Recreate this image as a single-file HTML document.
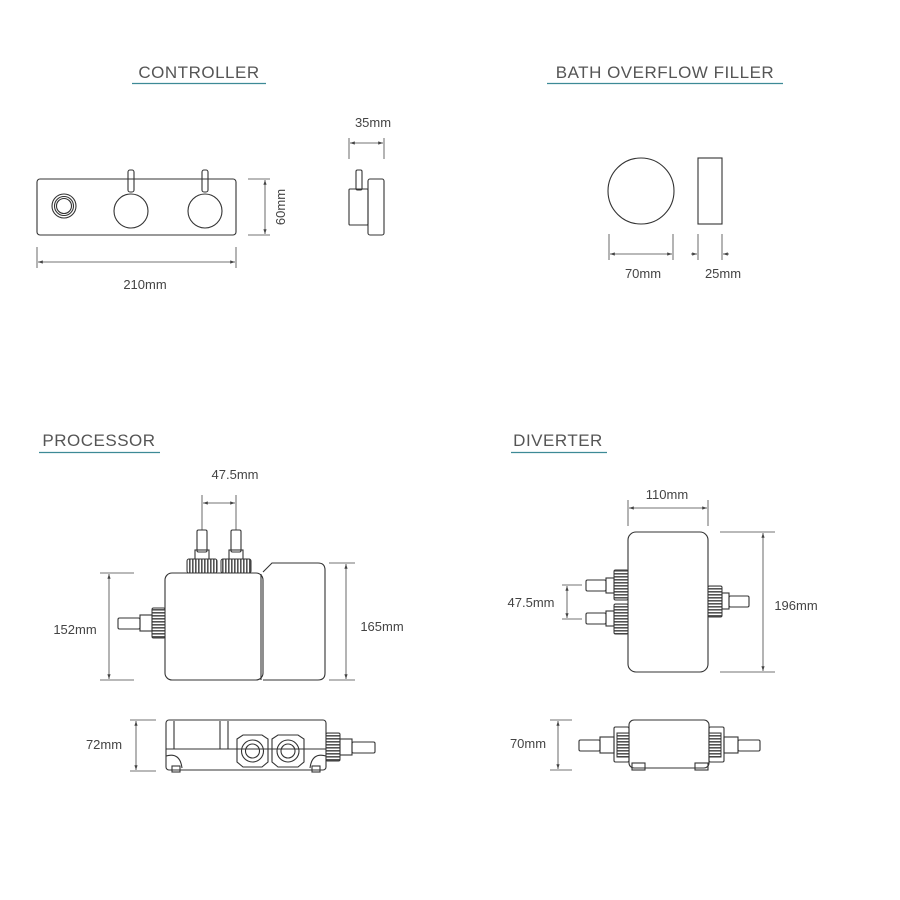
<!DOCTYPE html>
<html><head><meta charset="utf-8"><style>
html,body{margin:0;padding:0;background:#fff;}
svg{display:block;font-family:"Liberation Sans",sans-serif;}
.l{fill:none;stroke:#333;stroke-width:1.1}
.d{fill:none;stroke:#444;stroke-width:0.8}
.t{fill:#444;font-size:13px}
.h{fill:#555;font-size:17px;letter-spacing:0.5px}
.u{stroke:#3d8a96;stroke-width:1.3}
.nv{fill:url(#vs);stroke:#333;stroke-width:1}
.nh{fill:url(#hs);stroke:#333;stroke-width:1}
</style></head><body>
<svg width="900" height="900" viewBox="0 0 900 900" xmlns="http://www.w3.org/2000/svg">
<defs>
<marker id="a" viewBox="0 0 6 6" refX="6" refY="3" markerWidth="6" markerHeight="6" orient="auto-start-reverse"><path d="M0,1 L6,3 L0,5z" fill="#444"/></marker>
<pattern id="vs" width="3" height="3" patternUnits="userSpaceOnUse"><rect width="3" height="3" fill="#fff"/><rect width="1.6" height="3" fill="#555"/></pattern>
<pattern id="hs" width="3" height="3" patternUnits="userSpaceOnUse"><rect width="3" height="3" fill="#fff"/><rect width="3" height="1.6" fill="#555"/></pattern>
</defs>

<!-- Titles -->
<text class="h" x="199" y="78" text-anchor="middle">CONTROLLER</text>
<line class="u" x1="132" y1="83.5" x2="266" y2="83.5"/>
<text class="h" x="665" y="78" text-anchor="middle">BATH OVERFLOW FILLER</text>
<line class="u" x1="547" y1="83.5" x2="783" y2="83.5"/>
<text class="h" x="99" y="446" text-anchor="middle">PROCESSOR</text>
<line class="u" x1="39" y1="452.5" x2="160" y2="452.5"/>
<text class="h" x="558" y="446" text-anchor="middle">DIVERTER</text>
<line class="u" x1="511" y1="452.5" x2="607" y2="452.5"/>

<!-- Controller front -->
<rect class="l" x="37" y="179" width="199" height="56" rx="3"/>
<rect class="l" x="128" y="170" width="6" height="22" rx="2"/>
<rect class="l" x="202" y="170" width="6" height="22" rx="2"/>
<circle class="l" cx="131" cy="211" r="17" fill="#fff"/>
<circle class="l" cx="205" cy="211" r="17" fill="#fff"/>
<circle class="l" cx="64" cy="206" r="12"/>
<circle class="l" cx="64" cy="206" r="9.5"/>
<circle class="l" cx="64" cy="206" r="7.5"/>
<line class="d" x1="248" y1="179" x2="270" y2="179"/>
<line class="d" x1="248" y1="235" x2="270" y2="235"/>
<line class="d" x1="265" y1="180" x2="265" y2="234" marker-start="url(#a)" marker-end="url(#a)"/>
<text class="t" x="0" y="0" text-anchor="middle" transform="translate(285,207) rotate(-90)">60mm</text>
<line class="d" x1="37" y1="247" x2="37" y2="268"/>
<line class="d" x1="236" y1="247" x2="236" y2="268"/>
<line class="d" x1="38" y1="262" x2="235" y2="262" marker-start="url(#a)" marker-end="url(#a)"/>
<text class="t" x="145" y="289" text-anchor="middle">210mm</text>

<!-- Controller side -->
<text class="t" x="373" y="127" text-anchor="middle">35mm</text>
<line class="d" x1="349" y1="138" x2="349" y2="159"/>
<line class="d" x1="384" y1="138" x2="384" y2="159"/>
<line class="d" x1="350" y1="143" x2="383" y2="143" marker-start="url(#a)" marker-end="url(#a)"/>
<rect class="l" x="356" y="170" width="6" height="20" rx="1.5"/>
<rect class="l" x="349" y="189" width="19" height="36" rx="1"/>
<rect class="l" x="368" y="179" width="16" height="56" rx="2"/>

<!-- Bath overflow -->
<circle class="l" cx="641" cy="191" r="33"/>
<rect class="l" x="698" y="158" width="24" height="66"/>
<line class="d" x1="609" y1="234" x2="609" y2="260"/>
<line class="d" x1="673" y1="234" x2="673" y2="260"/>
<line class="d" x1="610" y1="254" x2="672" y2="254" marker-start="url(#a)" marker-end="url(#a)"/>
<text class="t" x="643" y="278" text-anchor="middle">70mm</text>
<line class="d" x1="698" y1="234" x2="698" y2="260"/>
<line class="d" x1="722" y1="234" x2="722" y2="260"/>
<line class="d" x1="691" y1="254" x2="697" y2="254" marker-end="url(#a)"/>
<line class="d" x1="729" y1="254" x2="723" y2="254" marker-end="url(#a)"/>
<text class="t" x="723" y="278" text-anchor="middle">25mm</text>

<!-- Processor top -->
<text class="t" x="235" y="479" text-anchor="middle">47.5mm</text>
<line class="d" x1="202" y1="495" x2="202" y2="530"/>
<line class="d" x1="236" y1="495" x2="236" y2="530"/>
<line class="d" x1="203" y1="503" x2="235" y2="503" marker-start="url(#a)" marker-end="url(#a)"/>
<rect class="l" x="197" y="530" width="10" height="22" rx="1.5"/>
<rect class="l" x="195" y="550" width="14" height="10"/>
<rect class="l" x="231" y="530" width="10" height="22" rx="1.5"/>
<rect class="l" x="229" y="550" width="14" height="10"/>
<rect class="nv" x="187" y="559" width="30" height="14" rx="2"/>
<rect class="nv" x="221" y="559" width="30" height="14" rx="2"/>
<rect class="l" x="165" y="573" width="98" height="107" rx="7"/>
<path class="l" d="M263,680 L318,680 Q325,680 325,673 L325,570 Q325,563 318,563 L272,563 L263,572"/>
<line class="l" x1="261" y1="574" x2="261" y2="680"/>
<rect class="nh" x="152" y="608" width="13" height="30" rx="1.5"/>
<rect class="l" x="140" y="615" width="12" height="16"/>
<rect class="l" x="118" y="618" width="22" height="11" rx="1.5"/>
<line class="d" x1="100" y1="573" x2="134" y2="573"/>
<line class="d" x1="100" y1="680" x2="134" y2="680"/>
<line class="d" x1="109" y1="574" x2="109" y2="679" marker-start="url(#a)" marker-end="url(#a)"/>
<text class="t" x="75" y="634" text-anchor="middle">152mm</text>
<line class="d" x1="329" y1="563" x2="355" y2="563"/>
<line class="d" x1="329" y1="680" x2="355" y2="680"/>
<line class="d" x1="346" y1="564" x2="346" y2="679" marker-start="url(#a)" marker-end="url(#a)"/>
<text class="t" x="382" y="631" text-anchor="middle">165mm</text>

<!-- Processor side -->
<rect class="l" x="166" y="720" width="160" height="50" rx="3"/>
<line class="l" x1="166" y1="749" x2="326" y2="749"/>
<line class="l" x1="174" y1="721" x2="174" y2="749"/>
<line class="l" x1="220" y1="721" x2="220" y2="749"/>
<line class="l" x1="228" y1="721" x2="228" y2="749"/>
<path class="l" d="M166,756 Q180,752 182,768"/>
<path class="l" d="M326,756 Q312,752 310,768"/>
<rect class="l" x="172" y="766" width="8" height="6"/>
<rect class="l" x="312" y="766" width="8" height="6"/>
<path class="l" d="M237,739 L243,735 L262,735 L268,739 L268,762 L262,767 L243,767 L237,762z" fill="#fff"/>
<path class="l" d="M272,739 L278,735 L298,735 L304,739 L304,762 L298,767 L278,767 L272,762z" fill="#fff"/>
<circle class="l" cx="252.5" cy="751" r="11"/><circle class="l" cx="252.5" cy="751" r="7"/>
<circle class="l" cx="288" cy="751" r="11"/><circle class="l" cx="288" cy="751" r="7"/>
<rect class="nh" x="326" y="733" width="14" height="28" rx="1.5"/>
<rect class="l" x="340" y="739" width="12" height="16"/>
<rect class="l" x="352" y="742" width="23" height="11" rx="1.5"/>
<line class="d" x1="130" y1="720" x2="156" y2="720"/>
<line class="d" x1="130" y1="771" x2="156" y2="771"/>
<line class="d" x1="136" y1="721" x2="136" y2="770" marker-start="url(#a)" marker-end="url(#a)"/>
<text class="t" x="104" y="749" text-anchor="middle">72mm</text>

<!-- Diverter top -->
<text class="t" x="667" y="499" text-anchor="middle">110mm</text>
<line class="d" x1="628" y1="500" x2="628" y2="526"/>
<line class="d" x1="708" y1="500" x2="708" y2="526"/>
<line class="d" x1="629" y1="508" x2="707" y2="508" marker-start="url(#a)" marker-end="url(#a)"/>
<rect class="l" x="628" y="532" width="80" height="140" rx="8"/>
<rect class="nh" x="614" y="570" width="14" height="30" rx="1.5"/>
<rect class="nh" x="614" y="604" width="14" height="30" rx="1.5"/>
<rect class="l" x="606" y="578" width="8" height="15"/>
<rect class="l" x="586" y="580" width="20" height="11" rx="1.5"/>
<rect class="l" x="606" y="611" width="8" height="15"/>
<rect class="l" x="586" y="613" width="20" height="11" rx="1.5"/>
<rect class="nh" x="708" y="586" width="14" height="31" rx="1.5"/>
<rect class="l" x="722" y="593" width="7" height="16"/>
<rect class="l" x="729" y="596" width="20" height="11" rx="1.5"/>
<line class="d" x1="562" y1="585" x2="582" y2="585"/>
<line class="d" x1="562" y1="619" x2="582" y2="619"/>
<line class="d" x1="567" y1="586" x2="567" y2="618" marker-start="url(#a)" marker-end="url(#a)"/>
<text class="t" x="531" y="607" text-anchor="middle">47.5mm</text>
<line class="d" x1="720" y1="532" x2="775" y2="532"/>
<line class="d" x1="720" y1="672" x2="775" y2="672"/>
<line class="d" x1="763" y1="533" x2="763" y2="671" marker-start="url(#a)" marker-end="url(#a)"/>
<text class="t" x="796" y="610" text-anchor="middle">196mm</text>

<!-- Diverter side -->
<rect class="l" x="629" y="720" width="80" height="48" rx="5"/>
<rect class="l" x="632" y="763" width="13" height="7"/>
<rect class="l" x="695" y="763" width="13" height="7"/>
<rect class="l" x="614" y="727" width="15" height="35" rx="1.5"/>
<rect class="nh" x="617" y="733" width="12" height="24"/>
<rect class="l" x="709" y="727" width="15" height="35" rx="1.5"/>
<rect class="nh" x="709" y="733" width="12" height="24"/>
<rect class="l" x="600" y="737" width="14" height="16"/>
<rect class="l" x="579" y="740" width="21" height="11" rx="1.5"/>
<rect class="l" x="724" y="737" width="14" height="16"/>
<rect class="l" x="738" y="740" width="22" height="11" rx="1.5"/>
<line class="d" x1="550" y1="720" x2="572" y2="720"/>
<line class="d" x1="550" y1="770" x2="572" y2="770"/>
<line class="d" x1="558" y1="721" x2="558" y2="769" marker-start="url(#a)" marker-end="url(#a)"/>
<text class="t" x="528" y="748" text-anchor="middle">70mm</text>
</svg>
</body></html>
